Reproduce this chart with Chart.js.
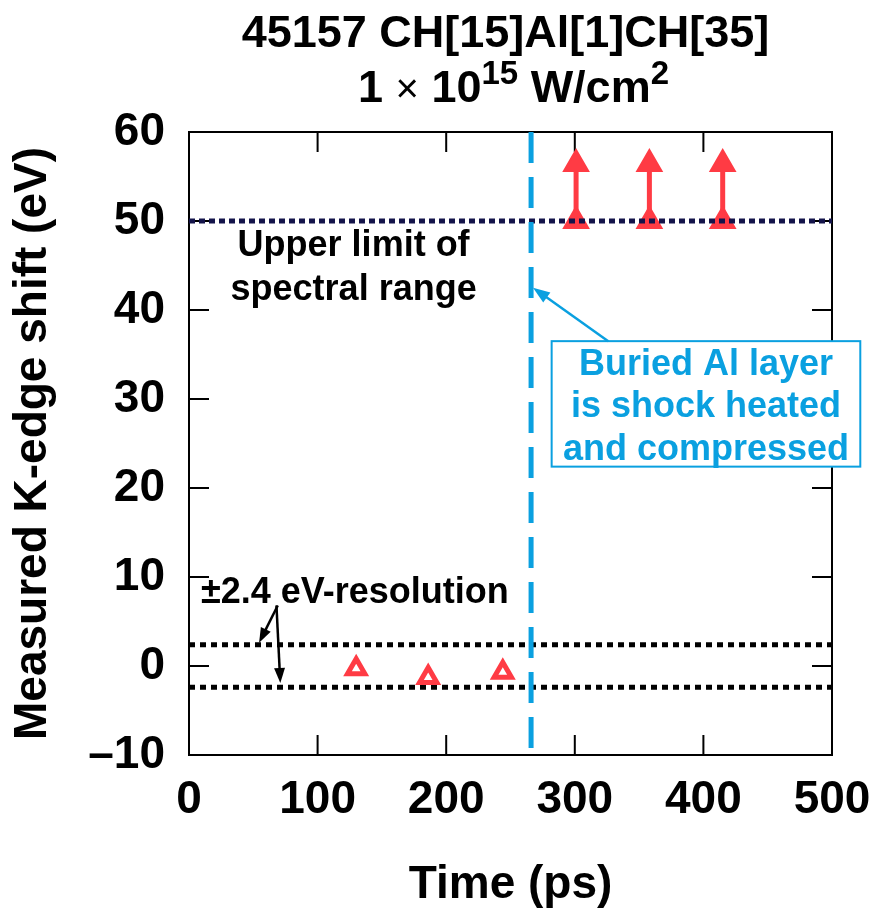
<!DOCTYPE html>
<html lang="en">
<head>
<meta charset="UTF-8">
<title>Measured K-edge shift vs time</title>
<script src="https://cdn.jsdelivr.net/npm/chart.js"></script>
<style>
  body { margin: 0; background: #fff; }
</style>
</head>
<body>
<canvas id="kedge" width="870" height="908"></canvas>
<script>
// tick values
const xTicks = [0, 100, 200, 300, 400, 500];
const yTicks = [-10, 0, 10, 20, 30, 40, 50, 60];

// measured K-edge shifts (open triangles)
const measuredTimes = [130, 186, 244];
const measuredShift = [-0.3, -1.3, -0.7];

// shifts beyond the spectral range (lower limits with up arrows)
const limitTimes = [301, 358, 415];
const limitShift = [50, 50, 50];
const limitArrowTop = [56.4, 56.4, 56.4];

// reference lines
const spectralLimit = 50;
const resolution = 2.4;
const shockTime = 266;

const FONT = '"Liberation Sans", Arial, Helvetica, sans-serif';
const RED = '#ff3b44';
const BLUE = '#0aa0e0';
const NAVY = '#14144a';

// arrow points: pairs broken by a null so each arrow is its own segment
const arrowPoints = [];
limitTimes.forEach((t, i) => {
    arrowPoints.push({ x: t, y: limitShift[i] }, { x: t, y: limitArrowTop[i] }, { x: t, y: null });
});

function drawArrow(ctx, x1, y1, x2, y2, color, width, head) {
    const a = Math.atan2(y2 - y1, x2 - x1);
    ctx.save();
    ctx.strokeStyle = color;
    ctx.fillStyle = color;
    ctx.lineWidth = width;
    ctx.beginPath();
    ctx.moveTo(x1, y1);
    ctx.lineTo(x2 - Math.cos(a) * head * 0.8, y2 - Math.sin(a) * head * 0.8);
    ctx.stroke();
    ctx.beginPath();
    ctx.moveTo(x2, y2);
    ctx.lineTo(x2 - head * Math.cos(a - 0.35), y2 - head * Math.sin(a - 0.35));
    ctx.lineTo(x2 - head * Math.cos(a + 0.35), y2 - head * Math.sin(a + 0.35));
    ctx.closePath();
    ctx.fill();
    ctx.restore();
}

// frame with inward ticks on all four sides
const framePlugin = {
    id: 'frame',
    beforeDatasetsDraw(chart) {
        const { ctx, chartArea: a, scales: { x, y } } = chart;
        ctx.save();
        ctx.strokeStyle = '#000';
        ctx.lineWidth = 2;
        ctx.strokeRect(a.left, a.top, a.right - a.left, a.bottom - a.top);
        ctx.beginPath();
        xTicks.slice(1, -1).forEach(v => {
            const px = x.getPixelForValue(v);
            ctx.moveTo(px, a.bottom); ctx.lineTo(px, a.bottom - 20);
            ctx.moveTo(px, a.top); ctx.lineTo(px, a.top + 20);
        });
        yTicks.slice(1, -1).forEach(v => {
            const py = y.getPixelForValue(v);
            ctx.moveTo(a.left, py); ctx.lineTo(a.left + 20, py);
            ctx.moveTo(a.right, py); ctx.lineTo(a.right - 20, py);
        });
        ctx.stroke();
        ctx.restore();
    }
};

// title (with superscripts) and text annotations
const notesPlugin = {
    id: 'notes',
    afterDraw(chart) {
        const { ctx, chartArea: a, scales: { x, y } } = chart;
        const cx = (a.left + a.right) / 2;
        ctx.save();
        ctx.fillStyle = '#000';
        ctx.textBaseline = 'alphabetic';

        // title line 1
        ctx.textAlign = 'center';
        ctx.font = 'bold 45px ' + FONT;
        ctx.fillText('45157 CH[15]Al[1]CH[35]', cx - 5, 47);

        // title line 2 built from pieces
        const parts = [
            { t: '1 ', f: 'bold 45px ' + FONT, dy: 0 },
            { t: '\u00d7', f: '40px ' + FONT, dy: 0 },
            { t: ' 10', f: 'bold 45px ' + FONT, dy: 0 },
            { t: '15', f: 'bold 33px ' + FONT, dy: -18 },
            { t: ' W/cm', f: 'bold 45px ' + FONT, dy: 0 },
            { t: '2', f: 'bold 33px ' + FONT, dy: -18 }
        ];
        let total = 0;
        parts.forEach(p => { ctx.font = p.f; p.w = ctx.measureText(p.t).width; total += p.w; });
        let px = cx + 3 - total / 2;
        ctx.textAlign = 'left';
        parts.forEach(p => { ctx.font = p.f; ctx.fillText(p.t, px, 102 + p.dy); px += p.w; });

        // upper limit label
        ctx.textAlign = 'center';
        ctx.font = 'bold 36px ' + FONT;
        ctx.fillText('Upper limit of', x.getPixelForValue(128), y.getPixelForValue(46.1));
        ctx.fillText('spectral range', x.getPixelForValue(128), y.getPixelForValue(41.1));

        // resolution label with arrows
        ctx.fillText('\u00b12.4 eV-resolution', x.getPixelForValue(129), y.getPixelForValue(7.1));
        drawArrow(ctx, x.getPixelForValue(69), y.getPixelForValue(6.8),
            x.getPixelForValue(54.5), y.getPixelForValue(2.6), '#000', 2.5, 16);
        drawArrow(ctx, x.getPixelForValue(68), y.getPixelForValue(6.8),
            x.getPixelForValue(71), y.getPixelForValue(-1.9), '#000', 2.5, 16);

        // shock box
        const bx1 = x.getPixelForValue(282), bx2 = x.getPixelForValue(522);
        const by1 = y.getPixelForValue(36.5), by2 = y.getPixelForValue(22.4);
        ctx.fillStyle = '#fff';
        ctx.fillRect(bx1, by1, bx2 - bx1, by2 - by1);
        ctx.strokeStyle = BLUE;
        ctx.lineWidth = 2;
        ctx.strokeRect(bx1, by1, bx2 - bx1, by2 - by1);
        ctx.fillStyle = BLUE;
        const tx = (bx1 + bx2) / 2;
        ctx.fillText('Buried Al layer', tx, y.getPixelForValue(32.7));
        ctx.fillText('is shock heated', tx, y.getPixelForValue(28.0));
        ctx.fillText('and compressed', tx, y.getPixelForValue(23.1));
        drawArrow(ctx, x.getPixelForValue(326), by1,
            x.getPixelForValue(267.5), y.getPixelForValue(42.5), BLUE, 2.5, 18);
        ctx.restore();
    }
};

new Chart(document.getElementById('kedge'), {
    type: 'scatter',
    data: {
        datasets: [
            {
                label: 'Measured shift',
                data: measuredTimes.map((t, i) => ({ x: t, y: measuredShift[i] })),
                pointStyle: 'triangle',
                pointRadius: 10,
                pointBorderWidth: 5,
                borderColor: RED,
                backgroundColor: '#fff',
                order: 1
            },
            {
                label: 'Lower limit',
                data: arrowPoints,
                showLine: true,
                spanGaps: false,
                borderColor: RED,
                borderWidth: 5,
                pointStyle: 'triangle',
                pointRadius: 14,
                pointBorderWidth: 2,
                backgroundColor: RED,
                order: 3
            },
            {
                label: 'Shock arrival',
                data: [{ x: shockTime, y: 60 }, { x: shockTime, y: -10 }],
                showLine: true,
                borderColor: BLUE,
                borderWidth: 5,
                borderDash: [31, 14],
                pointRadius: 0,
                order: 0
            },
            {
                label: 'Upper limit of spectral range',
                data: [{ x: 0, y: spectralLimit }, { x: 500, y: spectralLimit }],
                showLine: true,
                borderColor: NAVY,
                borderWidth: 5,
                borderDash: [6, 4],
                pointRadius: 0,
                order: 2
            },
            {
                label: '+resolution',
                data: [{ x: 0, y: resolution }, { x: 500, y: resolution }],
                showLine: true,
                borderColor: '#000',
                borderWidth: 5,
                borderDash: [6, 5],
                pointRadius: 0,
                order: 4
            },
            {
                label: '-resolution',
                data: [{ x: 0, y: -resolution }, { x: 500, y: -resolution }],
                showLine: true,
                borderColor: '#000',
                borderWidth: 5,
                borderDash: [6, 5],
                pointRadius: 0,
                order: 4
            }
        ]
    },
    options: {
        responsive: false,
        animation: false,
        layout: { padding: { top: 132, right: 38, left: 0, bottom: 0 } },
        plugins: {
            legend: { display: false },
            tooltip: { enabled: false }
        },
        scales: {
            x: {
                type: 'linear',
                min: 0,
                max: 500,
                afterFit: s => { s.height = 153; s.paddingLeft = 0; s.paddingRight = 0; },
                afterBuildTicks: s => { s.ticks = xTicks.map(v => ({ value: v })); },
                grid: { display: false, drawTicks: false },
                border: { display: false },
                ticks: {
                    color: '#000',
                    font: { family: FONT, size: 46, weight: 'bold' },
                    padding: 18,
                    maxRotation: 0,
                    autoSkip: false
                },
                title: {
                    display: true,
                    text: 'Time (ps)',
                    color: '#000',
                    font: { family: FONT, size: 46, weight: 'bold', lineHeight: 1 },
                    padding: { top: 1, bottom: 0 }
                }
            },
            y: {
                type: 'linear',
                min: -10,
                max: 60,
                afterFit: s => { s.width = 189; s.paddingTop = 0; s.paddingBottom = 0; },
                afterBuildTicks: s => { s.ticks = yTicks.map(v => ({ value: v })); },
                grid: { display: false, drawTicks: false },
                border: { display: false },
                ticks: {
                    color: '#000',
                    font: { family: FONT, size: 46, weight: 'bold' },
                    padding: 24,
                    callback: v => v < 0 ? '\u2013' + Math.abs(v) : v
                },
                title: {
                    display: true,
                    text: 'Measured K-edge shift (eV)',
                    color: '#000',
                    font: { family: FONT, size: 46, weight: 'bold', lineHeight: 1 },
                    padding: { top: 10, bottom: 0 }
                }
            }
        }
    },
    plugins: [framePlugin, notesPlugin]
});
</script>
</body>
</html>
